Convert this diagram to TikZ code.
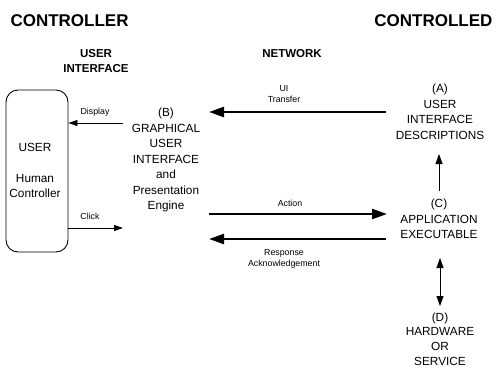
\documentclass[tikz,border=0pt]{standalone}
\usepackage{fontspec}
\setmainfont{Liberation Sans}
\usetikzlibrary{arrows.meta}
\begin{document}
\begin{tikzpicture}[x=1pt,y=-1pt,
  head/.style={font=\fontsize{17}{18}\selectfont\bfseries},
  subhead/.style={font=\fontsize{11.5}{14.5}\selectfont\bfseries, align=center},
  block/.style={font=\fontsize{11.8}{15.5}\selectfont, align=center, inner sep=0pt},
  lbl/.style={font=\fontsize{8.8}{11}\selectfont, align=center, inner sep=0pt},
  bigarrow/.style={line width=2.4pt, -{Triangle[length=15pt,width=10pt]}},
  smallarrow/.style={line width=0.8pt, -{Triangle[length=9pt,width=6pt]}},
  userbox/.style={draw, line width=0.9pt, rounded corners=12pt}]
\useasboundingbox (0,0) rectangle (497,370);

% headings
\node[head, anchor=west] (ctrl) at (7,21) {CONTROLLER};
\node[head, anchor=east] (ctrld) at (496,21) {CONTROLLED};
\node[subhead] (ui) at (96,61) {USER\\INTERFACE};
\node[subhead] (net) at (292,54) {NETWORK};

% user box
\node[userbox, minimum width=62pt, minimum height=162pt] (user) at (37,171) {};
\node[block] (usertxt) at (35,147) {USER};
\node[block] (human) at (35,186) {Human\\Controller};

% text blocks
\node[block] (B) at (166,160) {(B)\\GRAPHICAL\\USER\\INTERFACE\\and\\Presentation\\Engine};
\node[block] (A) at (440,112) {(A)\\USER\\INTERFACE\\DESCRIPTIONS};
\node[block] (C) at (439,219) {(C)\\APPLICATION\\EXECUTABLE};
\node[block, font=\fontsize{11.8}{14.8}\selectfont] (D) at (440,339) {(D)\\HARDWARE\\OR\\SERVICE};

% arrow end points
\coordinate (dispR) at (123,123);
\coordinate (clickR) at (123,228);
\coordinate (uiR) at (386,112);
\coordinate (uiL) at (209,112);
\coordinate (actL) at (209,214);
\coordinate (actR) at (387,214);
\coordinate (respR) at (386,239);
\coordinate (respL) at (209,239);
\coordinate (acBot) at (439,191);
\coordinate (acTop) at (439,154);
\coordinate (cdTop) at (440,258);
\coordinate (cdBot) at (440,306);

% user interface arrows
\draw[smallarrow] (dispR) -- (dispR -| user.east);
\draw[smallarrow] (clickR -| user.east) -- (clickR);
\node[lbl] (displbl) at (95,112) {Display};
\node[lbl] (clicklbl) at (90,216) {Click};

% network arrows
\draw[bigarrow] (uiR) -- (uiL);
\draw[bigarrow] (actL) -- (actR);
\draw[bigarrow] (respR) -- (respL);
\node[lbl] (uilbl) at (284,94) {UI\\Transfer};
\node[lbl] (actlbl) at (290,203) {Action};
\node[lbl] (resplbl) at (284,259) {Response\\Acknowledgement};

% controlled side arrows
\draw[line width=0.8pt, -{Triangle[length=10pt,width=7pt]}] (acBot) -- (acTop);
\draw[line width=0.8pt, {Triangle[length=10pt,width=7pt]}-{Triangle[length=10pt,width=7pt]}] (cdTop) -- (cdBot);
\end{tikzpicture}
\end{document}
